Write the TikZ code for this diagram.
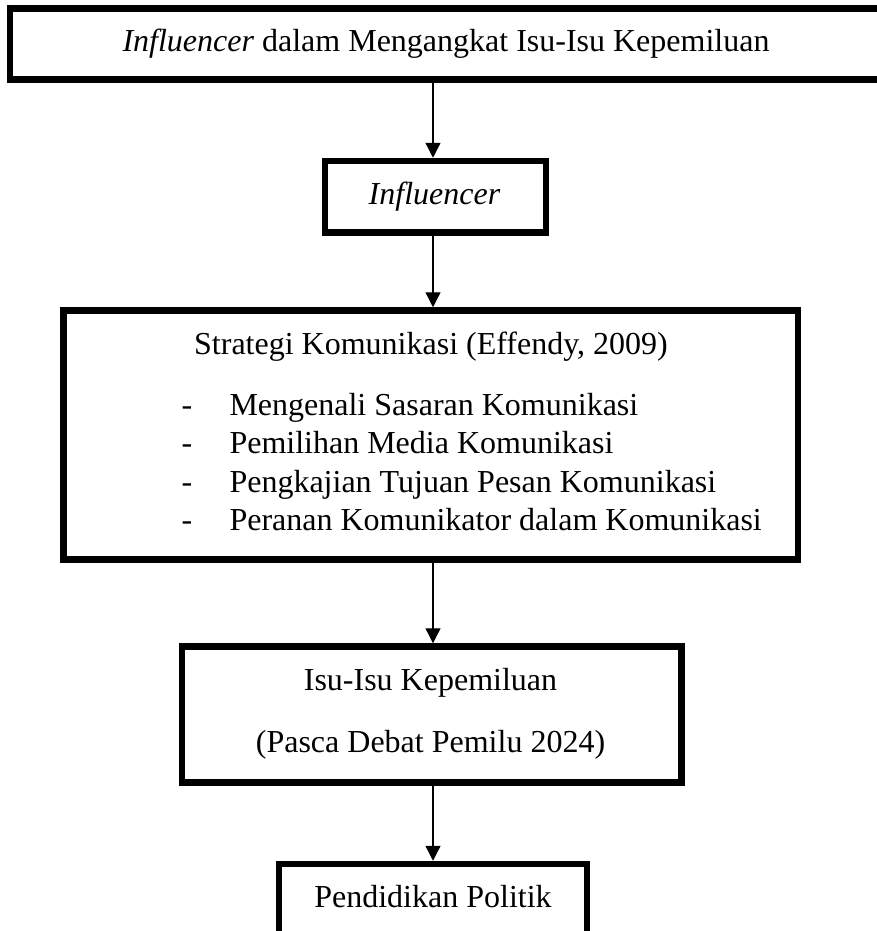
\documentclass[tikz,border=0pt]{standalone}
\usepackage{fontspec}
\setmainfont{Liberation Serif}
\usetikzlibrary{arrows.meta}
\begin{document}
\begin{tikzpicture}[x=1pt,y=-1pt,
  box/.style={draw,rectangle,line width=6.5pt,inner sep=0pt,outer sep=3.25pt},
  arr/.style={line width=1.3pt,-{Triangle[length=15pt,width=15pt]}},
  txt/.style={inner sep=0pt,outer sep=0pt,anchor=base,font=\fontsize{32}{38}\selectfont},
  txtl/.style={txt,anchor=base west}]
\useasboundingbox (0,0) rectangle (877,931);
\coordinate (ax) at (433,0);
% boxes
\node[box,minimum width=874.5pt,minimum height=71pt] (b1) at (447,44) {};
\node[box,minimum width=221pt,minimum height=71.5pt] (b2) at (435.5,196.75) {};
\node[box,minimum width=734.5pt,minimum height=249pt] (b3) at (430.75,435) {};
\node[box,minimum width=499.5pt,minimum height=136pt] (b4) at (431.75,714.5) {};
\node[box,minimum width=308pt,minimum height=70pt] (b5) at (433,899) {};
% texts
\node[txt] (t1) at (446,52) {\textit{Influencer} dalam Mengangkat Isu-Isu Kepemiluan};
\node[txt] (t2) at (434.5,204.5) {\textit{Influencer}};
\node[txt] (t3) at (431,354) {Strategi Komunikasi (Effendy, 2009)};
\node[txtl] (d1) at (181.5,415) {-};
\node[txtl] (d2) at (181.5,453.5) {-};
\node[txtl] (d3) at (181.5,492) {-};
\node[txtl] (d4) at (181.5,530.5) {-};
\node[txtl] (i1) at (229.5,415) {Mengenali Sasaran Komunikasi};
\node[txtl] (i2) at (229.5,453.5) {Pemilihan Media Komunikasi};
\node[txtl] (i3) at (229.5,492) {Pengkajian Tujuan Pesan Komunikasi};
\node[txtl] (i4) at (229.5,530.5) {Peranan Komunikator dalam Komunikasi};
\node[txt] (t4a) at (430.5,690) {Isu-Isu Kepemiluan};
\node[txt] (t4b) at (430.5,752) {(Pasca Debat Pemilu 2024)};
\node[txt] (t5) at (433,907) {Pendidikan Politik};
% connectors
\draw[arr] (b1.south -| ax) -- (b2.north -| ax);
\draw[arr] (b2.south -| ax) -- (b3.north -| ax);
\draw[arr] (b3.south -| ax) -- (b4.north -| ax);
\draw[arr] (b4.south -| ax) -- (b5.north -| ax);
\end{tikzpicture}
\end{document}
